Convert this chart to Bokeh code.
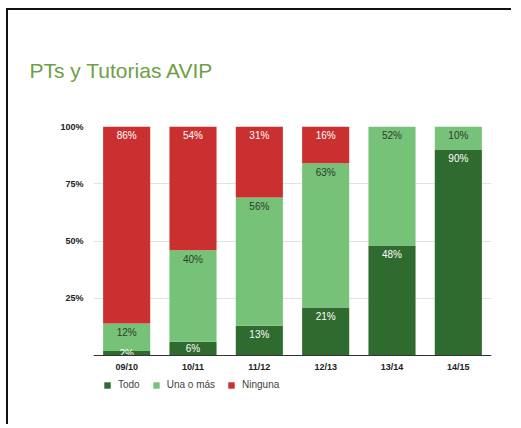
from bokeh.plotting import figure
from bokeh.models import (ColumnDataSource, FactorRange, Range1d, FixedTicker,
                          PrintfTickFormatter, Legend, LegendItem)
from bokeh.core.properties import value
from bokeh.embed import file_html
from bokeh.resources import INLINE

categories = ["09/10", "10/11", "11/12", "12/13", "13/14", "14/15"]
todo = [2, 6, 13, 21, 48, 90]
una_o_mas = [12, 40, 56, 63, 52, 10]
ninguna = [86, 54, 31, 16, 0, 0]
series_names = ["Todo", "Una o más", "Ninguna"]
series_keys = ["todo", "una", "ninguna"]
colors = ["#2f6a2e", "#77c279", "#c9302f"]
label_colors = ["#ffffff", "#2d3b2d", "#ffffff"]
y_ticks = [25, 50, 75, 100]

FONT = "Liberation Sans"

source = ColumnDataSource(dict(cat=categories, todo=todo, una=una_o_mas, ninguna=ninguna))

# extra room below zero inside the frame holds the category labels and legend
p = figure(x_range=FactorRange(*categories), y_range=Range1d(-17, 100),
           frame_width=398, frame_height=268, output_backend="svg", toolbar_location=None,
           min_border_left=85, min_border_right=20, min_border_top=116, min_border_bottom=30)
p.styles = {"border-top": "2px solid #111", "border-left": "2px solid #111",
            "margin-left": "6px", "margin-top": "8px"}
p.outline_line_color = None
p.background_fill_color = "white"
p.border_fill_color = "white"

renderers = p.vbar_stack(series_keys, x="cat", width=0.71, color=colors, source=source,
                         line_color=None)

# value labels
series = [todo, una_o_mas, ninguna]
bottoms = [0] * len(categories)
for vals, col in zip(series, label_colors):
    xs, ys, txt = [], [], []
    for i, v in enumerate(vals):
        top = bottoms[i] + v
        if v > 0:
            xs.append(categories[i])
            ys.append(max(top - 4, (bottoms[i] + top) / 2))
            txt.append(f"{v}%")
        bottoms[i] = top
    p.text(x=xs, y=ys, text=txt, text_align="center", text_baseline="middle",
           text_font=value(FONT), text_font_size="10px", text_color=col)

p.title.text = "PTs y Tutorias AVIP"
p.title.align = "left"
p.title.offset = -64
p.title.standoff = 90
p.title.text_font = FONT
p.title.text_font_size = "21px"
p.title.text_font_style = "normal"
p.title.text_color = "#6e9f45"

p.xgrid.grid_line_color = None
p.ygrid.grid_line_color = "#e2e2e2"
p.ygrid.ticker = FixedTicker(ticks=y_ticks)

p.yaxis.ticker = FixedTicker(ticks=y_ticks)
p.yaxis.formatter = PrintfTickFormatter(format="%d%%")
p.yaxis.axis_line_color = None
p.yaxis.major_tick_line_color = None
p.yaxis.minor_tick_line_color = None
p.yaxis.major_label_text_font = FONT
p.yaxis.major_label_text_font_size = "9px"
p.yaxis.major_label_text_font_style = "bold"
p.yaxis.major_label_text_color = "#222222"
p.yaxis.major_label_standoff = 4

p.xaxis.fixed_location = 0
p.xaxis.axis_line_color = "#333333"
p.xaxis.major_tick_line_color = None
p.xaxis.minor_tick_line_color = None
p.xaxis.major_label_text_font = FONT
p.xaxis.major_label_text_font_size = "9px"
p.xaxis.major_label_text_font_style = "bold"
p.xaxis.major_label_text_color = "#222222"
p.xaxis.major_label_standoff = 0

legend = Legend(items=[LegendItem(label=n, renderers=[r]) for n, r in zip(series_names, renderers)],
                orientation="horizontal", location=(10, 4),
                label_text_font=FONT, label_text_font_size="10px", label_text_color="#444444",
                glyph_width=8, glyph_height=8, label_height=10, label_standoff=7, spacing=12,
                padding=0, margin=0, border_line_color=None, background_fill_alpha=0)
p.add_layout(legend, "center")

open("out.html", "w").write(file_html(p, INLINE))
